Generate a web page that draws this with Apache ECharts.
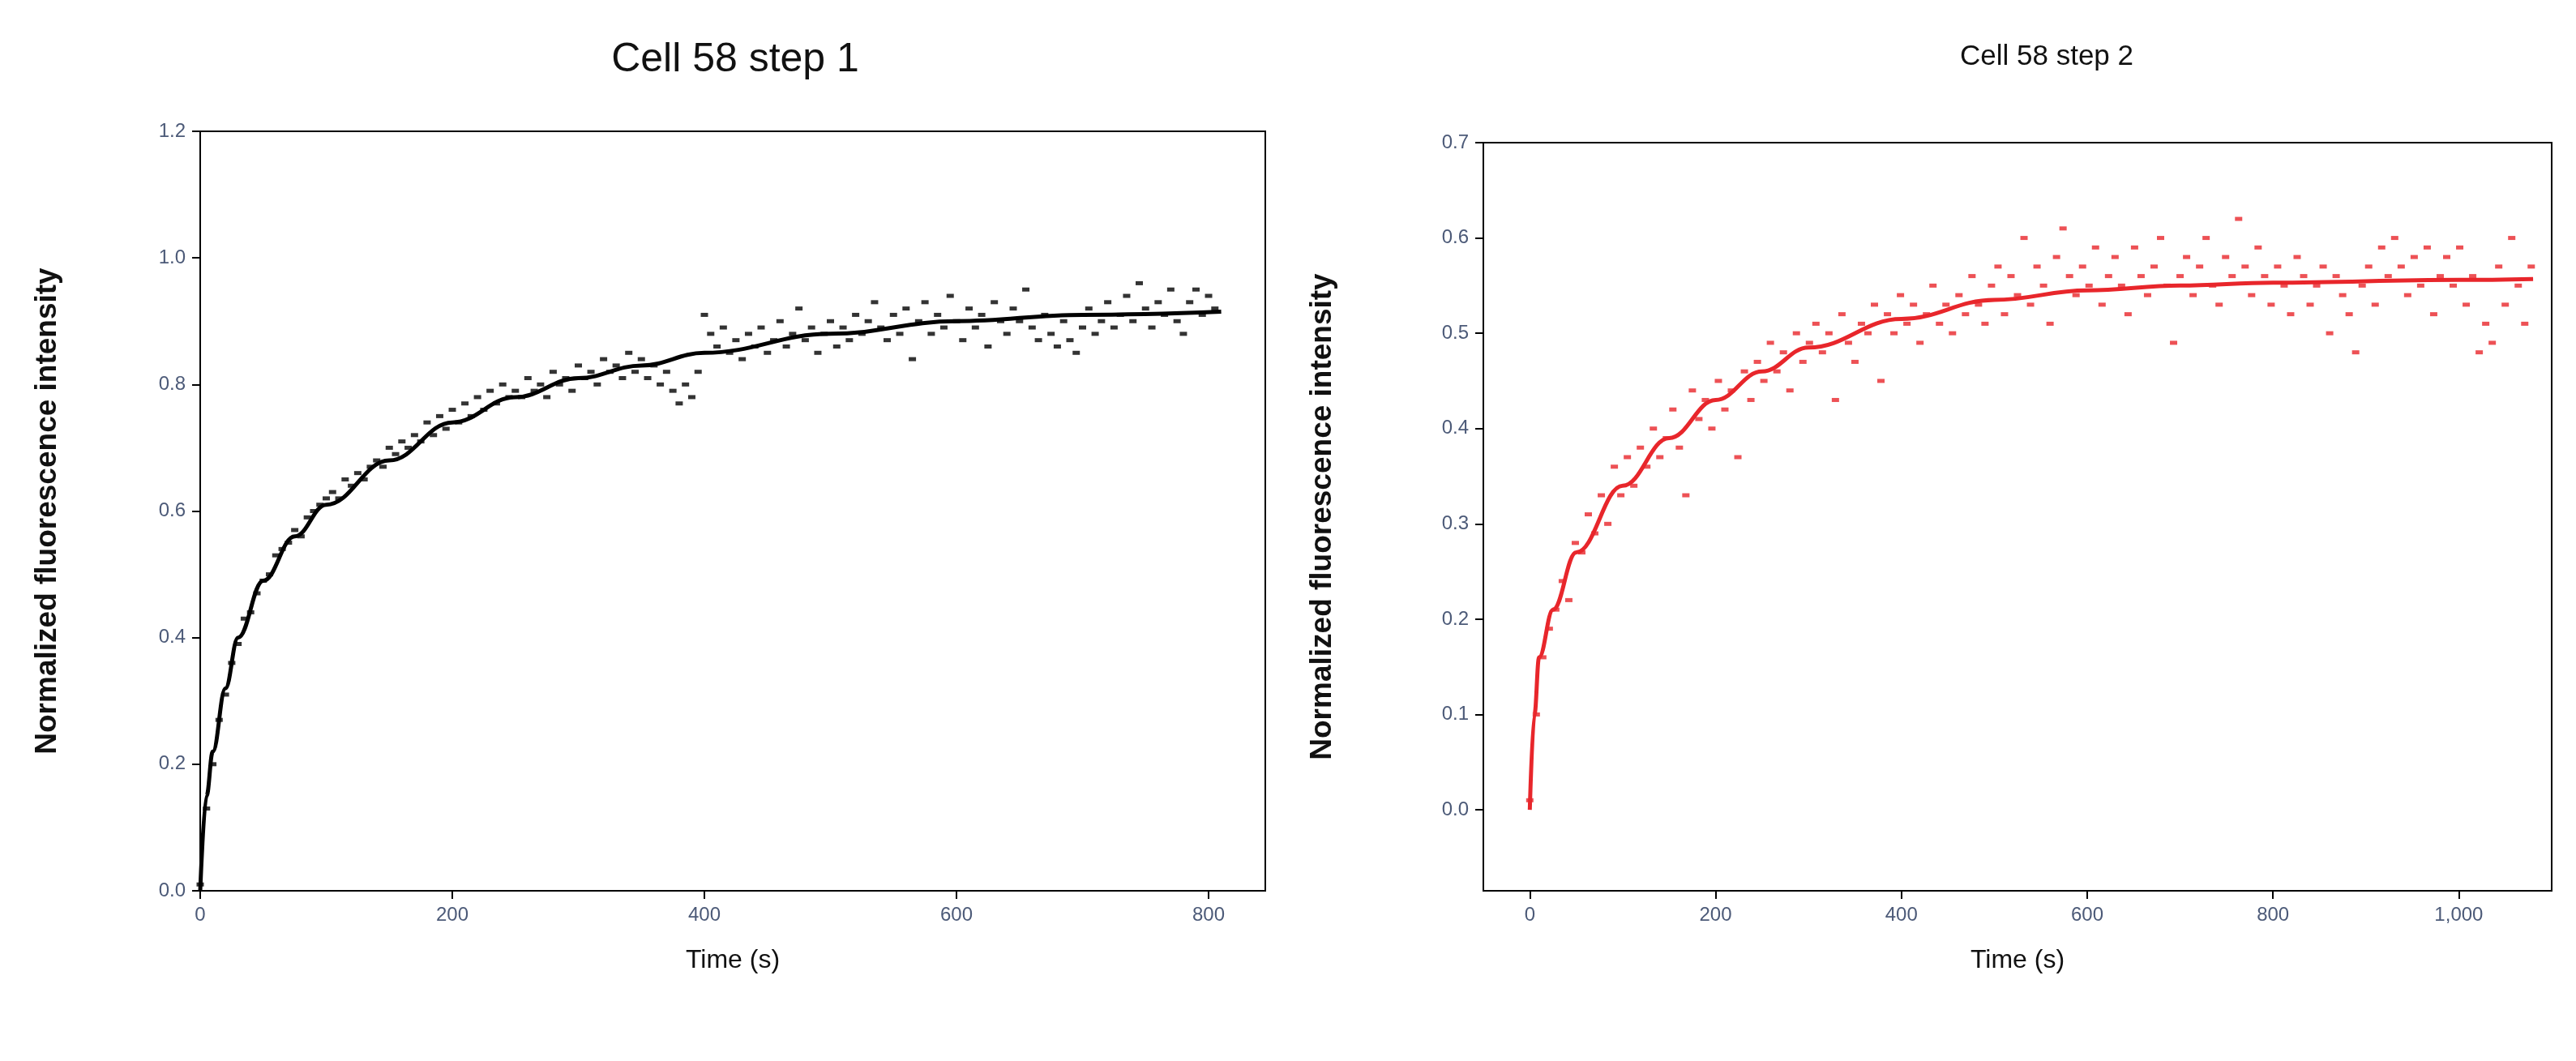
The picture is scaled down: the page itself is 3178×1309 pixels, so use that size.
<!DOCTYPE html>
<html><head><meta charset="utf-8">
<script src="https://cdn.jsdelivr.net/npm/echarts@6/dist/echarts.min.js"></script>
<style>html,body{margin:0;padding:0;background:#fff}#c{width:3178px;height:1309px}</style>
</head><body><div id="c"></div>
<script>
// Step 1: scatter samples (every 5 s from 0)
const step1Start = 0, step1Dt = 5;
const step1Values = [0.01,0.13,0.2,0.27,0.31,0.36,0.39,0.43,0.44,0.47,0.49,0.5,0.53,0.54,0.55,0.57,0.56,0.59,0.6,0.61,
0.62,0.63,0.62,0.65,0.64,0.66,0.65,0.67,0.68,0.67,0.70,0.69,0.71,0.70,0.72,0.71,0.74,0.72,0.75,0.73,
0.76,0.74,0.77,0.75,0.78,0.76,0.79,0.77,0.80,0.78,0.79,0.78,0.81,0.79,0.80,0.78,0.82,0.80,0.81,0.79,
0.83,0.81,0.82,0.80,0.84,0.82,0.83,0.81,0.85,0.82,0.84,0.81,0.83,0.80,0.82,0.79,0.77,0.80,0.78,0.82,
0.91,0.88,0.86,0.89,0.85,0.87,0.84,0.88,0.86,0.89,0.85,0.87,0.90,0.86,0.88,0.92,0.87,0.89,0.85,0.88,
0.90,0.86,0.89,0.87,0.91,0.88,0.90,0.93,0.89,0.87,0.91,0.88,0.92,0.84,0.90,0.93,0.88,0.91,0.89,0.94,
0.90,0.87,0.92,0.89,0.91,0.86,0.93,0.90,0.88,0.92,0.90,0.95,0.89,0.87,0.91,0.88,0.86,0.90,0.87,0.85,
0.89,0.92,0.88,0.90,0.93,0.89,0.91,0.94,0.90,0.96,0.92,0.89,0.93,0.91,0.95,0.90,0.88,0.93,0.95,0.91,
0.94,0.92];
const step1FitT = [0,5,10,20,30,50,75,100,150,200,250,300,350,400,500,600,700,810];
const step1FitY = [0,0.15,0.22,0.32,0.40,0.49,0.56,0.61,0.68,0.74,0.78,0.81,0.83,0.85,0.88,0.90,0.91,0.915];

// Step 2: scatter samples (every 7 s from 0)
const step2Start = 0, step2Dt = 7;
const step2Values = [0.01,0.10,0.16,0.19,0.21,0.24,0.22,0.28,0.27,0.31,0.29,0.33,0.30,0.36,0.33,0.37,0.34,0.38,0.36,0.40,
0.37,0.39,0.42,0.38,0.33,0.44,0.41,0.43,0.40,0.45,0.42,0.44,0.37,0.46,0.43,0.47,0.45,0.49,0.46,0.48,
0.44,0.50,0.47,0.49,0.51,0.48,0.50,0.43,0.52,0.49,0.47,0.51,0.50,0.53,0.45,0.52,0.50,0.54,0.51,0.53,
0.49,0.52,0.55,0.51,0.53,0.50,0.54,0.52,0.56,0.53,0.51,0.55,0.57,0.52,0.56,0.54,0.60,0.53,0.57,0.55,
0.51,0.58,0.61,0.56,0.54,0.57,0.55,0.59,0.53,0.56,0.58,0.55,0.52,0.59,0.56,0.54,0.57,0.60,0.55,0.49,
0.56,0.58,0.54,0.57,0.60,0.55,0.53,0.58,0.56,0.62,0.57,0.54,0.59,0.56,0.53,0.57,0.55,0.52,0.58,0.56,
0.53,0.55,0.57,0.50,0.56,0.54,0.52,0.48,0.55,0.57,0.53,0.59,0.56,0.60,0.57,0.54,0.58,0.55,0.59,0.52,
0.56,0.58,0.55,0.59,0.53,0.56,0.48,0.51,0.49,0.57,0.53,0.60,0.55,0.51,0.57];
const step2FitT = [0,5,10,25,50,100,150,200,250,300,400,500,600,700,800,1000,1080];
const step2FitY = [0,0.10,0.16,0.21,0.27,0.34,0.39,0.43,0.46,0.485,0.515,0.535,0.545,0.55,0.553,0.556,0.557];

// Tick values
const step1XTicks = [0,200,400,600,800];
const step1YTicks = [0,0.2,0.4,0.6,0.8,1.0,1.2];
const step2XTicks = [0,200,400,600,800,1000];
const step2YTicks = [0,0.1,0.2,0.3,0.4,0.5,0.6,0.7];

const RED = '#e8262b';
const pts = (start, dt, vals) => vals.map((v, i) => [start + i * dt, v]);
const zip = (a, b) => a.map((x, i) => [x, b[i]]);

const tickLbl = {color:'#4c5a78', fontFamily:'Liberation Sans, Arial', fontSize:24, margin:18};
const nameStyle = {color:'#111', fontFamily:'Liberation Sans, Arial', fontSize:32};
const yNameStyle = {color:'#111', fontFamily:'Liberation Sans, Arial', fontSize:37, fontWeight:'bold'};
function xAx(idx, min, max, ticks) {
  return {type:'value', gridIndex:idx, min, max, name:'Time (s)', nameLocation:'middle', nameGap:70,
    nameTextStyle:nameStyle, axisLine:{show:true, onZero:false, lineStyle:{color:'#000', width:2}},
    axisTick:{show:true, length:10, customValues:ticks, lineStyle:{color:'#000', width:2}}, splitLine:{show:false},
    axisLabel:Object.assign({}, tickLbl, {customValues:ticks})};
}
function yAx(idx, min, max, ticks, gap) {
  return {type:'value', gridIndex:idx, min, max, name:'Normalized fluorescence intensity', nameLocation:'middle', nameGap:gap,
    nameTextStyle:yNameStyle, axisLine:{show:true, onZero:false, lineStyle:{color:'#000', width:2}},
    axisTick:{show:true, length:10, customValues:ticks, lineStyle:{color:'#000', width:2}}, splitLine:{show:false},
    axisLabel:Object.assign({}, tickLbl, {customValues:ticks, formatter: v => Number(v).toFixed(1)})};
}

const chart = echarts.init(document.getElementById('c'));
chart.setOption({
  backgroundColor:'#fff',
  animation:false,
  title:[
    {text:'Cell 58 step 1', left:902, top:44, textAlign:'center', textStyle:{fontFamily:'Liberation Sans, Arial', fontSize:50, fontWeight:'normal', color:'#111'}},
    {text:'Cell 58 step 2', left:2520, top:48, textAlign:'center', textStyle:{fontFamily:'Liberation Sans, Arial', fontSize:35, fontWeight:'normal', color:'#111'}}
  ],
  grid:[
    {left:247, top:162, width:1314, height:937, show:true, borderColor:'#000', borderWidth:2, backgroundColor:'transparent'},
    {left:1830, top:176, width:1318, height:923, show:true, borderColor:'#000', borderWidth:2, backgroundColor:'transparent'}
  ],
  xAxis:[ xAx(0, 0, 845, step1XTicks), xAx(1, -50, 1100, step2XTicks) ],
  yAxis:[ yAx(0, 0, 1.2, step1YTicks, 170), yAx(1, -0.085, 0.7, step2YTicks, 180) ],
  series:[
    {type:'scatter', xAxisIndex:0, yAxisIndex:0, data:pts(step1Start, step1Dt, step1Values), symbol:'rect', symbolSize:[9,5], itemStyle:{color:'#000'}},
    {type:'line', xAxisIndex:0, yAxisIndex:0, data:zip(step1FitT, step1FitY), smooth:0.4, smoothMonotone:'x', showSymbol:false, lineStyle:{color:'#000', width:5}},
    {type:'scatter', xAxisIndex:1, yAxisIndex:1, data:pts(step2Start, step2Dt, step2Values), symbol:'rect', symbolSize:[9,5], itemStyle:{color:RED}},
    {type:'line', xAxisIndex:1, yAxisIndex:1, data:zip(step2FitT, step2FitY), smooth:0.4, smoothMonotone:'x', showSymbol:false, lineStyle:{color:RED, width:5}}
  ]
});
</script></body></html>
